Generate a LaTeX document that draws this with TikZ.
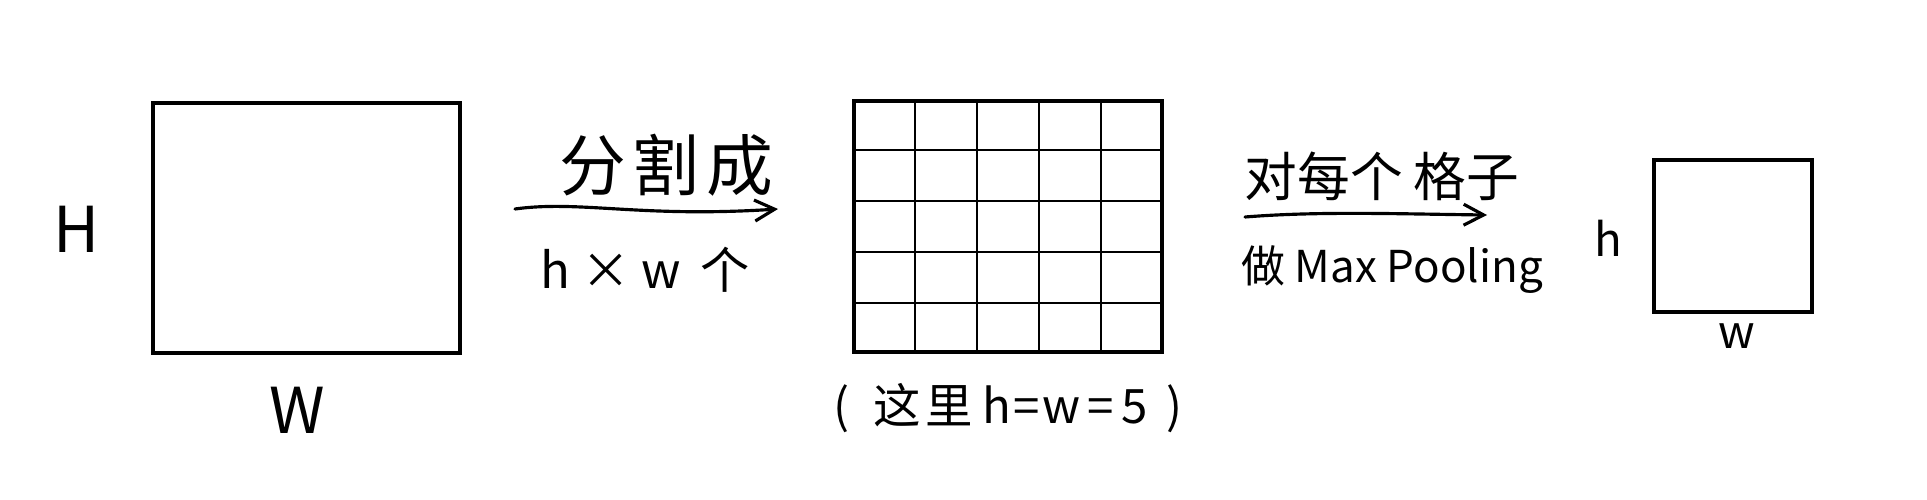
\documentclass[tikz,border=0pt]{standalone}
\usepackage{fontspec}
\setmainfont{Noto Sans CJK SC}
\usetikzlibrary{arrows.meta,calc}
\tikzset{
  box/.style={draw=black, line width=2pt, rectangle, minimum width=#1, inner sep=0pt},
  gridline/.style={draw=black, line width=1.1pt},
  flow/.style={draw=black, line width=1.8pt, line cap=round, -{Straight Barb[length=0.4cm,width=0.42cm,line width=1.8pt]}},
  lbl/.style={inner sep=0pt, anchor=center}
}
\begin{document}
\begin{tikzpicture}[x=0.02cm,y=-0.02cm]
\useasboundingbox (0,0) rectangle (1927,500);
% first box
\node[box=6.14cm, minimum height=5.0cm] (big) at (306.5,228) {};
\node[lbl, font=\fontsize{36}{40}\selectfont] (H) at (77,229) {H};
\node[lbl, font=\fontsize{36}{40}\selectfont] (W) at (297,410) {W};
% arrow 1
\coordinate (a1s) at (515,209);
\coordinate (a1e) at (778,209);
\draw[flow] (a1s) .. controls (580,200) and (640,218) .. (a1e);
\node[lbl, font=\fontsize{38}{42}\selectfont] (split) at (666,165) {分\hspace{0.1em}割\hspace{0.1em}成};
\node[lbl, font=\fontsize{28}{32}\selectfont] (hxw) at (645,270) {h × w\hspace{0.4em}个};
% grid
\node[box=6.16cm, minimum height=5.02cm] (g) at (1008,226.5) {};
\foreach \f in {0.2,0.4,0.6,0.8}{
  \draw[gridline] ($(g.north west)!\f!(g.north east)$) -- ($(g.south west)!\f!(g.south east)$);
  \draw[gridline] ($(g.north west)!\f!(g.south west)$) -- ($(g.north east)!\f!(g.south east)$);
}
\node[lbl, font=\fontsize{27}{30}\selectfont] (cap) at (1008,408) {(\hspace{0.5em}这\hspace{0.1em}里\hspace{0.2em}h\hspace{0.05em}=\hspace{0.05em}w\hspace{0.15em}=\hspace{0.15em}5\hspace{0.4em})};
% arrow 2
\coordinate (a2s) at (1245,217);
\coordinate (a2e) at (1487,215);
\draw[flow] (a2s) .. controls (1320,211) and (1400,214) .. (a2e);
\node[lbl, font=\fontsize{30}{34}\selectfont] (each) at (1382,176) {对每个\hspace{0.2em}格子};
\node[lbl, font=\fontsize{25}{30}\selectfont] (mp) at (1392,270) {做 Max Pooling};
% small box
\node[box=3.16cm, minimum height=3.04cm] (small) at (1733,236) {};
\node[lbl, font=\fontsize{26}{30}\selectfont] (h) at (1608,238) {h};
\node[lbl, font=\fontsize{26}{30}\selectfont] (w) at (1737,336) {w};
\end{tikzpicture}
\end{document}
